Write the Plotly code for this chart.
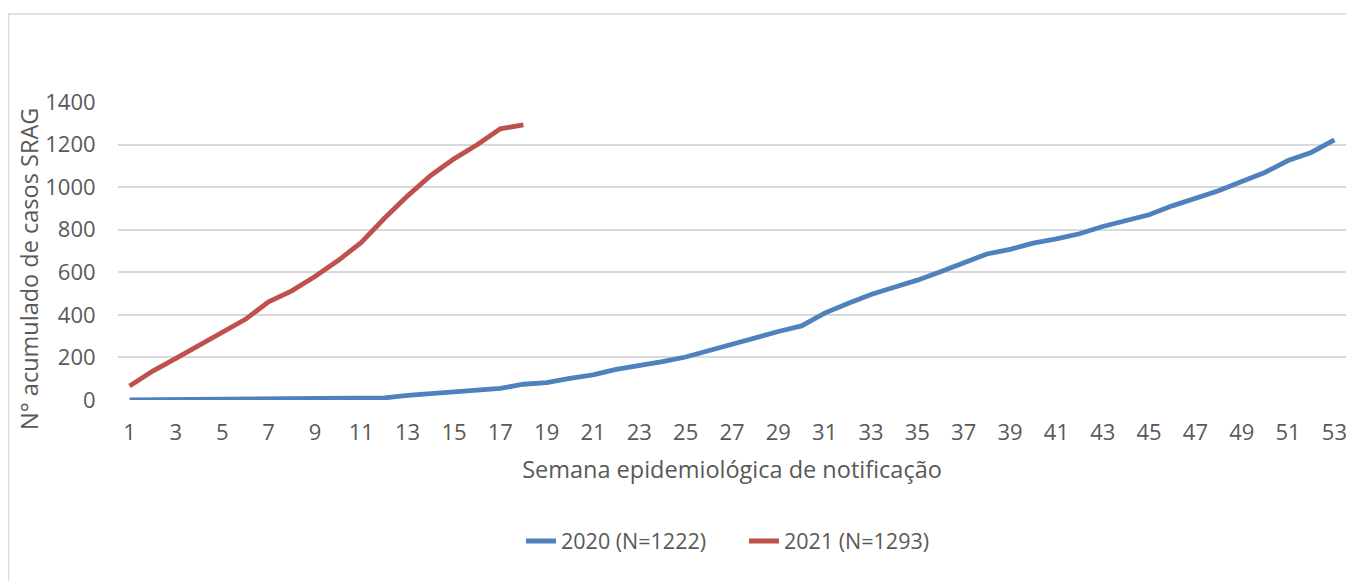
import plotly.graph_objects as go

weeks_2020 = list(range(1, 54))
cases_2020 = [0, 1, 1, 2, 2, 2, 2, 2, 4, 6, 7, 10, 22, 32, 38, 46, 55, 74, 82, 102,
              118, 144, 161, 180, 202, 233, 262, 290, 322, 348, 408, 453, 496, 530, 563,
              603, 643, 686, 708, 737, 757, 781, 815, 842, 870, 912, 948, 983, 1027,
              1069, 1125, 1163, 1222]
weeks_2021 = list(range(1, 19))
cases_2021 = [66, 136, 196, 257, 318, 379, 461, 513, 580, 655, 740, 854, 959, 1055,
              1133, 1199, 1274, 1293]
x_ticks = list(range(1, 54, 2))
y_ticks = [0, 200, 400, 600, 800, 1000, 1200, 1400]
names = ["2020 (N=1222)", "2021 (N=1293)"]
colors = ["#4f81bd", "#c0504d"]

FONT = "Open Sans"
GRAY = "#595959"

fig = go.Figure()
fig.add_trace(go.Scatter(x=weeks_2020, y=cases_2020, mode="lines", name=names[0],
                         line=dict(color=colors[0], width=4.8, shape="linear")))
fig.add_trace(go.Scatter(x=weeks_2021, y=cases_2021, mode="lines", name=names[1],
                         line=dict(color=colors[1], width=4.8, shape="linear")))

# page has an 8px body margin; figure coordinates = screen - 8
OFF = 8
W, H = 1354 - OFF, 581 - OFF
L, T = 118 - OFF, 102 - OFF
PR, PB = 1346 - OFF, 400 - OFF
R, B = W - PR, H - PB
pw, ph = PR - L, PB - T

def px(xs):
    return (xs - OFF - L) / pw

def py(ys):
    return (PB - (ys - OFF)) / ph

fig.update_layout(
    width=W, height=H,
    margin=dict(l=L, r=R, t=T, b=B),
    paper_bgcolor="white", plot_bgcolor="white",
    font=dict(family=FONT, color=GRAY, size=22),
    showlegend=True,
    legend=dict(orientation="h", x=px(521), xanchor="left", y=py(541), yanchor="middle",
                font=dict(size=21.5, color=GRAY), traceorder="normal",
                entrywidth=178, entrywidthmode="pixels",
                bgcolor="rgba(0,0,0,0)"),
    shapes=[dict(type="rect", xref="paper", yref="paper",
                 x0=px(8.5), x1=px(1380), y0=py(600), y1=py(14),
                 line=dict(color="#d9d9d9", width=1.5), fillcolor="rgba(0,0,0,0)",
                 layer="below")],
    annotations=[dict(text="N° acumulado de casos SRAG", xref="paper", yref="paper",
                      x=px(29), y=py(269), xanchor="center", yanchor="middle",
                      textangle=-90, showarrow=False,
                      font=dict(size=23.5, color=GRAY, family=FONT))],
)

fig.update_xaxes(
    range=[0.5, 53.5], tickmode="array", tickvals=x_ticks,
    ticktext=[str(v) for v in x_ticks],
    showgrid=False, zeroline=False, showline=False,
    ticks="outside", ticklen=13, tickcolor="rgba(0,0,0,0)",
    tickfont=dict(size=22, color=GRAY),
    title=dict(text="Semana epidemiológica de notificação", standoff=16,
               font=dict(size=23.5, color=GRAY)),
)
fig.update_yaxes(
    range=[0, 1400], tickmode="array", tickvals=y_ticks,
    showgrid=True, gridcolor="#d9d9d9", gridwidth=1.5,
    zeroline=False, showline=False,
    ticks="outside", ticklen=17, tickcolor="rgba(0,0,0,0)",
    tickfont=dict(size=22, color=GRAY),
)

fig.write_html("out.html")
